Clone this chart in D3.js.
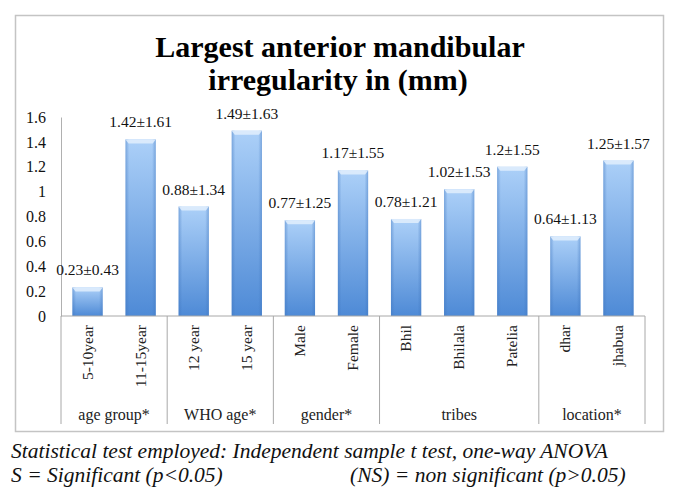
<!DOCTYPE html>
<html>
<head>
<meta charset="utf-8">
<script src="https://cdn.jsdelivr.net/npm/d3@7"></script>
<style>
  body { margin: 0; background: #fff; }
  text { font-family: "Liberation Serif", "DejaVu Serif", serif; }
</style>
</head>
<body>
<script>
const categories = ["5-10year", "11-15year", "12 year", "15 year", "Male", "Female", "Bhil", "Bhilala", "Patelia", "dhar", "jhabua"]
const groupOf = ["age group*", "age group*", "WHO age*", "WHO age*", "gender*", "gender*", "tribes", "tribes", "tribes", "location*", "location*"]
const means = [0.23, 1.42, 0.88, 1.49, 0.77, 1.17, 0.78, 1.02, 1.2, 0.64, 1.25]
const sds = [0.43, 1.61, 1.34, 1.63, 1.25, 1.55, 1.21, 1.53, 1.55, 1.13, 1.57]
const yTicks = [0, 0.2, 0.4, 0.6, 0.8, 1, 1.2, 1.4, 1.6]

const width = 677, height = 503

const svg = d3.select("body").append("svg")
  .attr("width", width)
  .attr("height", height)

// bar fill
const defs = svg.append("defs")
const grad = defs.append("linearGradient")
  .attr("id", "barGrad").attr("x1", 0).attr("y1", 0).attr("x2", 0).attr("y2", 1)
grad.append("stop").attr("offset", "0%").attr("stop-color", "#acd0f8")
grad.append("stop").attr("offset", "100%").attr("stop-color", "#4e8ad6")
const side = defs.append("linearGradient")
  .attr("id", "sideGrad").attr("x1", 0).attr("y1", 0).attr("x2", 1).attr("y2", 0)
side.append("stop").attr("offset", "0%").attr("stop-color", "#3f75bd").attr("stop-opacity", 0.45)
side.append("stop").attr("offset", "12%").attr("stop-color", "#3f75bd").attr("stop-opacity", 0)
side.append("stop").attr("offset", "88%").attr("stop-color", "#3f75bd").attr("stop-opacity", 0)
side.append("stop").attr("offset", "100%").attr("stop-color", "#3f75bd").attr("stop-opacity", 0.45)

// outer frame
svg.append("rect")
  .attr("x", 15.5).attr("y", 15.5)
  .attr("width", 648).attr("height", 416)
  .attr("fill", "none")
  .attr("stroke", "#c4c4c4")
  .attr("stroke-width", 1.5)

svg.append("text")
  .attr("x", 340).attr("y", 57)
  .attr("text-anchor", "middle")
  .attr("font-size", 30).attr("font-weight", "bold")
  .text("Largest anterior mandibular")
svg.append("text")
  .attr("x", 338).attr("y", 90)
  .attr("text-anchor", "middle")
  .attr("font-size", 30).attr("font-weight", "bold")
  .text("irregularity in (mm)")

const x = d3.scaleBand()
  .domain(categories)
  .range([61, 645])
  .paddingInner(0.43)
  .paddingOuter(0.215)

const y = d3.scaleLinear()
  .domain([0, 1.6])
  .range([316, 117])

// y axis
const yAxis = svg.append("g")
  .attr("transform", "translate(61,0)")
  .call(d3.axisLeft(y).tickValues(yTicks).tickSize(0).tickPadding(15).tickFormat(d3.format("")))
yAxis.select(".domain").attr("stroke", "#b0b0b0")
yAxis.selectAll("text").attr("font-size", 16).attr("font-family", "Liberation Serif").attr("fill", "#111")

// bars
const rows = categories.map((c, i) => ({ c: c, m: means[i], s: sds[i] }))
const bars = svg.append("g")
bars.selectAll("rect.bar").data(rows).join("rect")
  .attr("class", "bar")
  .attr("x", d => x(d.c))
  .attr("y", d => y(d.m))
  .attr("width", x.bandwidth())
  .attr("height", d => y(0) - y(d.m))
  .attr("fill", "url(#barGrad)")
bars.selectAll("rect.side").data(rows).join("rect")
  .attr("class", "side")
  .attr("x", d => x(d.c))
  .attr("y", d => y(d.m))
  .attr("width", x.bandwidth())
  .attr("height", d => y(0) - y(d.m))
  .attr("fill", "url(#sideGrad)")
// top bevel highlight
bars.selectAll("path.cap").data(rows).join("path")
  .attr("class", "cap")
  .attr("d", d => {
    const x0 = x(d.c), x1 = x0 + x.bandwidth(), t = y(d.m)
    return `M${x0},${t}L${x1},${t}L${x1 - 3},${t + 4}L${x0 + 3},${t + 4}Z`
  })
  .attr("fill", "#e2effd")
  .attr("opacity", 0.85)

// value labels
svg.append("g").selectAll("text").data(rows).join("text")
  .attr("x", d => x(d.c) + x.bandwidth() / 2)
  .attr("y", d => y(d.m) - 12)
  .attr("text-anchor", "middle")
  .attr("font-size", 15.5)
  .attr("fill", "#111")
  .text(d => d.m + "±" + d.s)

// x axis baseline
svg.append("line")
  .attr("x1", 61).attr("x2", 645)
  .attr("y1", y(0)).attr("y2", y(0))
  .attr("stroke", "#a8a8a8")

// group separators
const groups = Array.from(new Set(groupOf))
const groupSpan = groups.map(g => {
  const idx = groupOf.map((v, i) => v === g ? i : -1).filter(i => i >= 0)
  const step = x.step()
  const start = x(categories[idx[0]]) - x.paddingInner() * step / 2
  const end = x(categories[idx[idx.length - 1]]) + x.bandwidth() + x.paddingInner() * step / 2
  return { g: g, start: start, end: end }
})
const edges = [groupSpan[0].start].concat(groupSpan.map(d => d.end))
svg.append("g").selectAll("line").data(edges).join("line")
  .attr("x1", d => d).attr("x2", d => d)
  .attr("y1", y(0)).attr("y2", 424)
  .attr("stroke", "#a8a8a8")

// category labels, rotated
svg.append("g").selectAll("text").data(categories).join("text")
  .attr("transform", d => `translate(${x(d) + x.bandwidth() / 2 + 5},325) rotate(-90)`)
  .attr("text-anchor", "end")
  .attr("font-size", 15.5)
  .attr("fill", "#222")
  .text(d => d)

svg.append("g").selectAll("text").data(groupSpan).join("text")
  .attr("x", d => (d.start + d.end) / 2)
  .attr("y", 420)
  .attr("text-anchor", "middle")
  .attr("font-size", 16)
  .attr("fill", "#222")
  .text(d => d.g)

// footnote
const note = svg.append("g")
  .attr("font-style", "italic")
  .attr("font-size", 21.5)
  .attr("fill", "#111")
note.append("text").attr("x", 11).attr("y", 458)
  .text("Statistical test employed: Independent sample t test, one-way ANOVA")
note.append("text").attr("x", 11).attr("y", 482)
  .text("S = Significant (p<0.05)")
note.append("text").attr("x", 350).attr("y", 482)
  .text("(NS) = non significant (p>0.05)")
</script>
</body>
</html>
